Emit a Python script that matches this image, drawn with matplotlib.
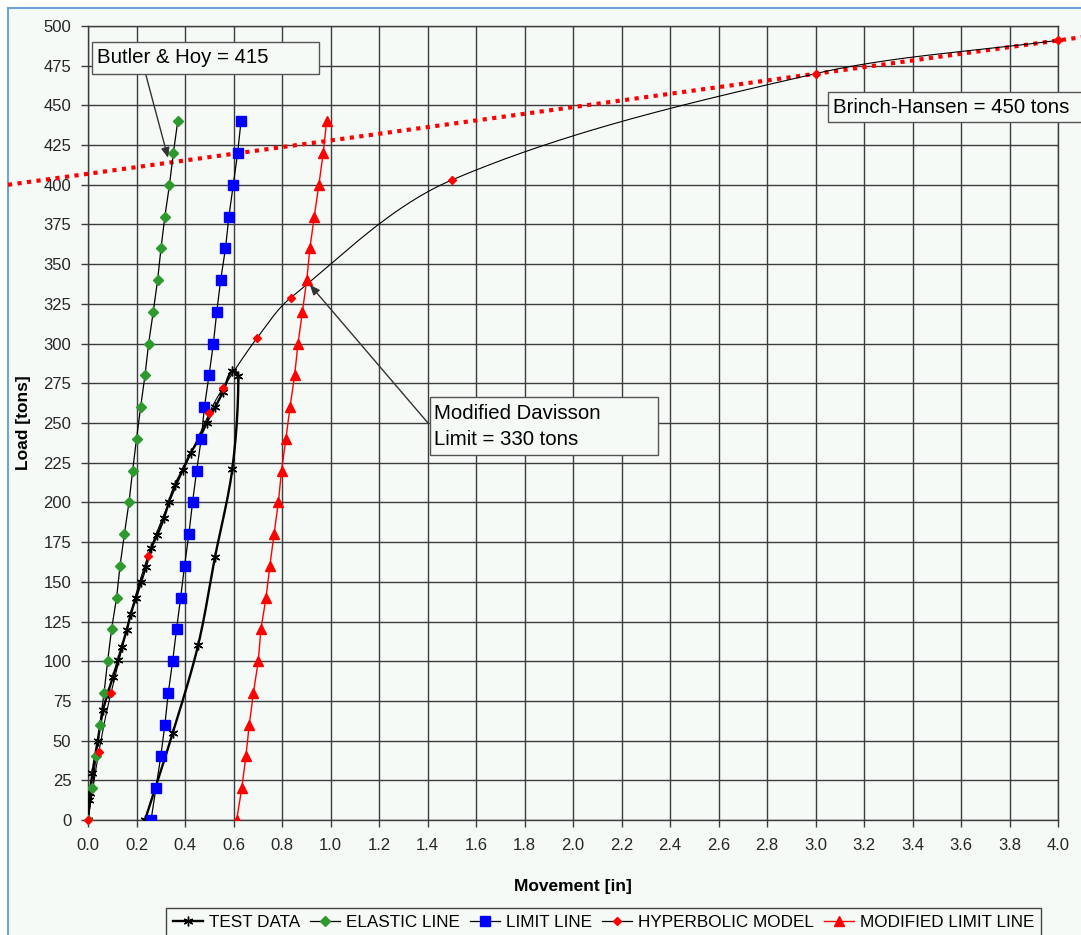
import numpy as np
import matplotlib
matplotlib.use("Agg")
import matplotlib.pyplot as plt
from matplotlib.lines import Line2D
from matplotlib.patches import Rectangle

# ---------------- data ----------------
test_x = [0.0, 0.005, 0.008, 0.018, 0.04, 0.062, 0.082, 0.103, 0.124, 0.139, 0.16,
          0.177, 0.198, 0.219, 0.239, 0.26, 0.286, 0.313, 0.334, 0.359, 0.39,
          0.423, 0.462, 0.489, 0.524, 0.557, 0.595, 0.62, 0.595, 0.524,
          0.454, 0.349, 0.235]
test_y = [0, 12.6, 17, 29.6, 50, 69, 80, 90, 100.8, 109, 119.6,
          130, 140, 150, 159.5, 171, 179.5, 190, 200.5, 211, 220.4,
          231, 241, 250, 260, 269.6, 283, 279.6, 221, 165.8,
          110, 54.6, 0]

elastic_y = [0, 20, 40, 60, 80, 100, 120, 140, 160, 180, 200, 220,
             240, 260, 280, 300, 320, 340, 360, 380, 400, 420, 440]
elastic_x = [0.0, 0.018, 0.033, 0.049, 0.066, 0.081, 0.097, 0.118, 0.132, 0.15,
             0.169, 0.184, 0.2, 0.217, 0.235, 0.25, 0.269, 0.287, 0.301, 0.317,
             0.336, 0.352, 0.37]

limit_y = elastic_y
limit_x = [0.26, 0.28, 0.3, 0.317, 0.331, 0.349, 0.365, 0.382, 0.398, 0.416,
           0.431, 0.448, 0.467, 0.48, 0.499, 0.517, 0.531, 0.547, 0.567, 0.581,
           0.599, 0.617, 0.631]

modlim_y = elastic_y
modlim_x = [0.613, 0.634, 0.651, 0.665, 0.682, 0.702, 0.713, 0.734, 0.75, 0.767,
            0.785, 0.798, 0.816, 0.833, 0.852, 0.866, 0.884, 0.902, 0.915, 0.933,
            0.952, 0.97, 0.984]

hyper_x = [0.0, 0.045, 0.095, 0.247, 0.499, 0.557, 0.697, 0.837, 1.5, 3.0, 4.0]
hyper_y = [0, 43, 80, 166, 256, 272, 303.5, 329, 403, 470, 491]

brinch_x = [-0.33, 4.10]
brinch_y = [400, 493]

x_ticks = [round(0.2 * i, 1) for i in range(21)]
y_ticks = list(range(0, 501, 25))

labels = ["TEST DATA", "ELASTIC LINE", "LIMIT LINE", "HYPERBOLIC MODEL",
          "MODIFIED LIMIT LINE"]

# ---------------- layout (pixels) ----------------
W, H = 1081, 935
AX_L, AX_R, AX_T, AX_B = 88, 1058, 26, 820
XS = (AX_R - AX_L) / 4.0      # px per inch
YS = (AX_B - AX_T) / 500.0    # px per ton


def smooth(x, y, n=24):
    """Smoothed line through the points (Bezier, tangents from neighbours,
    handle length proportional to segment length, computed in screen space)."""
    P = np.column_stack([np.asarray(x, float) * XS, np.asarray(y, float) * YS])
    E = np.vstack([P[0], P, P[-1]])
    t = np.linspace(0, 1, n, endpoint=False)[:, None]
    out = []

    def unit(v, fb):
        L = np.hypot(*v)
        if L < 1e-9:
            v = fb
            L = np.hypot(*v)
        return v / L if L > 1e-9 else v * 0

    for i in range(len(P) - 1):
        p0, p1, p2, p3 = E[i], E[i + 1], E[i + 2], E[i + 3]
        d = np.hypot(*(p2 - p1))
        u1 = unit(p2 - p0, p2 - p1)
        u2 = unit(p3 - p1, p2 - p1)
        b1 = p1 + u1 * d / 3.0
        b2 = p2 - u2 * d / 3.0
        c = ((1 - t) ** 3) * p1 + 3 * ((1 - t) ** 2) * t * b1 + 3 * (1 - t) * t ** 2 * b2 + t ** 3 * p2
        out.append(c)
    out.append(P[-1][None, :])
    C = np.vstack(out)
    return C[:, 0] / XS, C[:, 1] / YS


def fx(px):
    return px / W


def fy(py):
    return 1 - py / H


# ---------------- style ----------------
plt.rcParams['font.family'] = ['Liberation Sans', 'DejaVu Sans']

BG = '#F5FAF7'
GRID = '#3C3C3C'

fig = plt.figure(figsize=(W / 100, H / 100), dpi=100)
fig.patch.set_facecolor('white')
frame = Rectangle((fx(8), -0.05), 1.2, fy(8) + 0.05, transform=fig.transFigure,
                  facecolor=BG, edgecolor='#6FA3DA', linewidth=1.5, zorder=-10)
fig.patches.append(frame)

ax = fig.add_axes([fx(AX_L), fy(AX_B), (AX_R - AX_L) / W, (AX_B - AX_T) / H])
ax.set_facecolor(BG)
ax.set_xlim(0, 4.0)
ax.set_ylim(0, 500)
ax.set_xticks(x_ticks)
ax.set_xticklabels([f"{v:.1f}" for v in x_ticks])
ax.set_yticks(y_ticks)
ax.set_yticklabels([str(v) for v in y_ticks])
ax.grid(True, color=GRID, linewidth=1.0, zorder=1)
ax.set_axisbelow(True)
for s in ax.spines.values():
    s.set_color(GRID)
    s.set_linewidth(1.0)
ax.tick_params(direction='out', length=5, width=1, color=GRID, labelsize=12,
               labelcolor='#262626')
ax.tick_params(axis='x', pad=8)
ax.tick_params(axis='y', pad=7)

# Brinch-Hansen dotted line (extends beyond the plot area)
ax.plot(brinch_x, brinch_y, color='#FF0000', linestyle=(0, (1, 1.3)), linewidth=3.0,
        clip_on=False, zorder=3)

# test data
sx, sy = smooth(test_x, test_y, 12)
ax.plot(sx, sy, color='black', linewidth=1.7, zorder=4)
ax.plot(test_x, test_y, linestyle='none', marker=(6, 2, 0), markersize=7,
        markeredgecolor='black', markeredgewidth=1.0, zorder=5)

# elastic line
ax.plot(elastic_x, elastic_y, color='black', linewidth=0.9, zorder=4)
ax.plot(elastic_x, elastic_y, linestyle='none', marker='D', markersize=5.5,
        color='#2E9A2E', markeredgecolor='#2E9A2E', zorder=6)

# limit line
ax.plot(limit_x, limit_y, color='black', linewidth=0.9, zorder=4)
ax.plot(limit_x, limit_y, linestyle='none', marker='s', markersize=7,
        color='#0000FF', markeredgecolor='#0000FF', zorder=6)

# hyperbolic model
hx, hy = smooth(hyper_x, hyper_y, 60)
ax.plot(hx, hy, color='black', linewidth=0.8, zorder=4)
ax.plot(hyper_x, hyper_y, linestyle='none', marker='D', markersize=4,
        color='#FF0000', markeredgecolor='#FF0000', zorder=6, clip_on=False)

# modified limit line
ax.plot(modlim_x, modlim_y, color='#FF0000', linewidth=1.0, zorder=4)
ax.plot(modlim_x, modlim_y, linestyle='none', marker='^', markersize=7.5,
        color='#FF0000', markeredgecolor='#FF0000', zorder=6)

# ---------------- annotations ----------------
arrow = dict(arrowstyle='-|>,head_length=0.6,head_width=0.25', color='#333333',
             linewidth=1.0, shrinkA=0, shrinkB=0)
ax.annotate('', xy=(0.33, 417), xytext=(0.239, 469), arrowprops=arrow, zorder=7)
ax.annotate('', xy=(0.915, 337), xytext=(1.402, 250), arrowprops=arrow, zorder=7)


def textbox(x0, y0, x1, y1):
    r = Rectangle((fx(x0), fy(y1)), (x1 - x0) / W, (y1 - y0) / H, transform=fig.transFigure,
                  facecolor=BG, edgecolor='#555555', linewidth=1.0, zorder=20)
    fig.patches.append(r)


TXT = dict(fontsize=14.7, ha='left', va='baseline', color='black', zorder=21)
textbox(92, 42, 319, 74)
fig.text(fx(97), fy(63), 'Butler & Hoy = 415', **TXT)
textbox(828, 92, 1086, 122)
fig.text(fx(833), fy(113), 'Brinch-Hansen = 450 tons', **TXT)
textbox(430, 397, 658, 455)
fig.text(fx(434), fy(419), 'Modified Davisson', **TXT)
fig.text(fx(434), fy(445), 'Limit = 330 tons', **TXT)

# axis labels
fig.text(fx(24), fy(423), 'Load [tons]', rotation=90, fontsize=12.5, fontweight='bold',
         ha='center', va='center')
fig.text(fx(573), fy(887), 'Movement [in]', fontsize=12.5, fontweight='bold',
         ha='center', va='center')

# legend
handles = [
    Line2D([], [], color='black', linewidth=1.7, marker=(6, 2, 0), markersize=7,
           markeredgecolor='black'),
    Line2D([], [], color='black', linewidth=0.9, marker='D', markersize=5.5,
           markerfacecolor='#2E9A2E', markeredgecolor='#2E9A2E'),
    Line2D([], [], color='black', linewidth=0.9, marker='s', markersize=7,
           markerfacecolor='#0000FF', markeredgecolor='#0000FF'),
    Line2D([], [], color='black', linewidth=0.9, marker='D', markersize=4,
           markerfacecolor='#FF0000', markeredgecolor='#FF0000'),
    Line2D([], [], color='#FF0000', linewidth=1.0, marker='^', markersize=7.5,
           markerfacecolor='#FF0000', markeredgecolor='#FF0000'),
]
leg = fig.legend(handles, labels, loc='upper left', bbox_to_anchor=(fx(166), fy(908)),
                 ncol=5, frameon=True, fancybox=False, edgecolor='#444444', facecolor=BG,
                 framealpha=1, handlelength=1.75, handletextpad=0.35, columnspacing=0.6,
                 borderpad=0.4, borderaxespad=0, fontsize=12.3)
leg.get_frame().set_linewidth(1.0)

fig.savefig('out.png', dpi=100, facecolor=fig.get_facecolor())
